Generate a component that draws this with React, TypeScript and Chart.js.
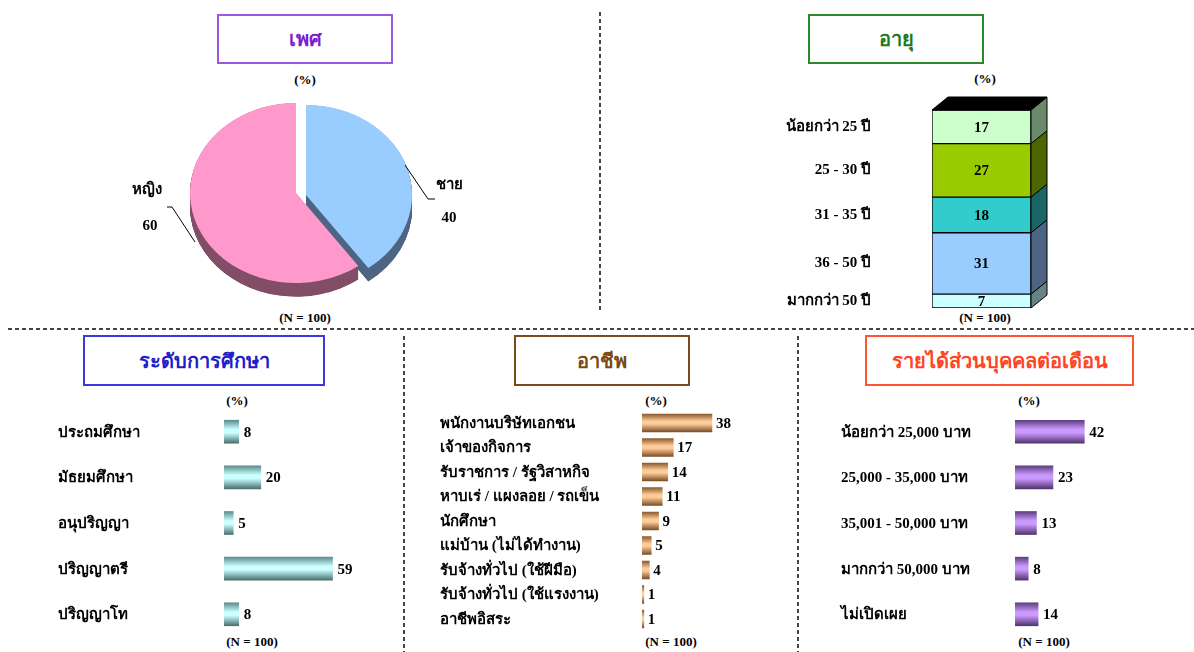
import React, { useEffect, useRef } from "react";
import { Chart, registerables, ArcElement } from "chart.js";

Chart.register(...registerables);

// ---------------- DATA ----------------
const genderLabels = ["ชาย", "หญิง"];
const genderValues = [40, 60];

const ageLabels = ["น้อยกว่า 25 ปี", "25 - 30 ปี", "31 - 35 ปี", "36 - 50 ปี", "มากกว่า 50 ปี"];
const ageValues = [17, 27, 18, 31, 7];

const eduLabels = ["ประถมศึกษา", "มัธยมศึกษา", "อนุปริญญา", "ปริญญาตรี", "ปริญญาโท"];
const eduValues = [8, 20, 5, 59, 8];

const jobLabels = [
  "พนักงานบริษัทเอกชน",
  "เจ้าของกิจการ",
  "รับราชการ / รัฐวิสาหกิจ",
  "หาบเร่ / แผงลอย / รถเข็น",
  "นักศึกษา",
  "แม่บ้าน (ไม่ได้ทำงาน)",
  "รับจ้างทั่วไป (ใช้ฝีมือ)",
  "รับจ้างทั่วไป (ใช้แรงงาน)",
  "อาชีพอิสระ",
];
const jobValues = [38, 17, 14, 11, 9, 5, 4, 1, 1];

const incomeLabels = [
  "น้อยกว่า 25,000 บาท",
  "25,000 - 35,000 บาท",
  "35,001 - 50,000 บาท",
  "มากกว่า 50,000 บาท",
  "ไม่เปิดเผย",
];
const incomeValues = [42, 23, 13, 8, 14];

// ---------------- STYLE ----------------
const SERIF = "'Liberation Serif', 'Times New Roman', serif";
const SANS = "Tahoma, 'DejaVu Sans', 'Noto Sans', sans-serif";
const LABEL_FONT = `bold 15px ${SERIF}`;
const VALUE_FONT = `bold 15px ${SERIF}`;

const genderColors = ["#99CCFF", "#FF99CC"];
const genderSideColors = ["#4D6482", "#824D66"];

const ageColors = ["#CCFFCC", "#99CC00", "#33CCCC", "#99CCFF", "#CCFFFF"];
const ageSideColors = ["#6B8A6B", "#4D6600", "#1A6666", "#4D6482", "#668484"];

// ---------------- PIE (3D look) ----------------
const PIE_X = 96;
const PIE_Y = 83;
const PIE_SCALE_Y = 0.85;
const PIE_DEPTH = 14;
const PIE_EXPLODE = [
  [10, 2],
  [0, 0],
];
const PIE_LABEL_POS = [
  { name: [449, 185], value: [449, 218], line: [[405, 165], [428, 199], [435, 199]] },
  { name: [147, 190], value: [150, 226], line: [[167, 207], [172, 207], [195, 242]] },
];

const pie3dPlugin = {
  id: "pie3d",
  afterDatasetUpdate(chart: any) {
    const meta = chart.getDatasetMeta(0);
    meta.data.forEach((arc: any, i: number) => {
      if (arc.__exploded) return;
      arc.__exploded = true;
      const [ex, ey] = PIE_EXPLODE[i] || [0, 0];
      arc.draw = function (ctx: CanvasRenderingContext2D) {
        ctx.save();
        ctx.translate(ex, ey / PIE_SCALE_Y);
        ArcElement.prototype.draw.call(this, ctx);
        ctx.restore();
      };
    });
  },
  beforeDatasetsDraw(chart: any) {
    const ctx = chart.ctx;
    const meta = chart.getDatasetMeta(0);
    const first = meta.data[0];
    const cx = first.x;
    const cy = first.y;
    ctx.save();
    ctx.translate(cx, cy);
    ctx.scale(1, PIE_SCALE_Y);
    ctx.translate(-cx, -cy);
    const depth = PIE_DEPTH / PIE_SCALE_Y;
    meta.data.forEach((arc: any, i: number) => {
      const p = arc.getProps(["x", "y", "startAngle", "endAngle", "outerRadius"], true);
      const [ex, ey] = PIE_EXPLODE[i] || [0, 0];
      const ox = ex;
      const oy = ey / PIE_SCALE_Y;
      ctx.fillStyle = genderSideColors[i];
      for (let k = 0.5; k <= depth; k += 0.5) {
        ctx.beginPath();
        ctx.moveTo(p.x + ox, p.y + oy + k);
        ctx.arc(p.x + ox, p.y + oy + k, p.outerRadius, p.startAngle, p.endAngle);
        ctx.closePath();
        ctx.fill();
      }
    });
  },
  afterDatasetsDraw(chart: any) {
    const ctx = chart.ctx;
    ctx.restore();
    ctx.save();
    ctx.fillStyle = "#000";
    ctx.textAlign = "center";
    ctx.textBaseline = "middle";
    chart.data.labels.forEach((lab: string, i: number) => {
      const lp = PIE_LABEL_POS[i];
      ctx.font = LABEL_FONT;
      ctx.fillText(lab, lp.name[0] - PIE_X, lp.name[1] - PIE_Y);
      ctx.font = VALUE_FONT;
      ctx.fillText(String(chart.data.datasets[0].data[i]), lp.value[0] - PIE_X, lp.value[1] - PIE_Y);
      ctx.beginPath();
      ctx.moveTo(lp.line[0][0] - PIE_X, lp.line[0][1] - PIE_Y);
      for (let k = 1; k < lp.line.length; k++) ctx.lineTo(lp.line[k][0] - PIE_X, lp.line[k][1] - PIE_Y);
      ctx.strokeStyle = "#000";
      ctx.lineWidth = 1;
      ctx.stroke();
    });
    ctx.restore();
  },
};

// ---------------- AGE (3D stacked column) ----------------
const AGE_DX = 16;
const AGE_DY = 13;
const AGE_LABEL_X = 111; // canvas x (page 871)

const age3dPlugin = {
  id: "age3d",
  afterDatasetsDraw(chart: any) {
    const ctx = chart.ctx;
    const n = chart.data.datasets.length;
    ctx.save();
    for (let d = 0; d < n; d++) {
      const bar = chart.getDatasetMeta(d).data[0];
      const p = bar.getProps(["x", "y", "base", "width"], true);
      const l = p.x - p.width / 2;
      const r = p.x + p.width / 2;
      const t = Math.min(p.y, p.base);
      const b = Math.max(p.y, p.base);
      ctx.beginPath();
      ctx.moveTo(r, t);
      ctx.lineTo(r + AGE_DX, t - AGE_DY);
      ctx.lineTo(r + AGE_DX, b - AGE_DY);
      ctx.lineTo(r, b);
      ctx.closePath();
      ctx.fillStyle = chart.data.datasets[d].sideColor;
      ctx.fill();
      ctx.strokeStyle = "#000";
      ctx.lineWidth = 1;
      ctx.stroke();
      if (d === n - 1) {
        ctx.beginPath();
        ctx.moveTo(l, t);
        ctx.lineTo(l + AGE_DX, t - AGE_DY);
        ctx.lineTo(r + AGE_DX, t - AGE_DY);
        ctx.lineTo(r, t);
        ctx.closePath();
        ctx.fillStyle = "#000";
        ctx.fill();
        ctx.stroke();
      }
      ctx.fillStyle = "#000";
      ctx.textBaseline = "middle";
      ctx.font = VALUE_FONT;
      ctx.textAlign = "center";
      ctx.fillText(String(chart.data.datasets[d].data[0]), p.x, (t + b) / 2 + 1);
      ctx.font = LABEL_FONT;
      ctx.textAlign = "right";
      ctx.fillText(chart.data.datasets[d].label, AGE_LABEL_X, (t + b) / 2);
    }
    ctx.restore();
  },
};

// ---------------- HORIZONTAL BARS ----------------
function hbarLabelPlugin(o: any) {
  return {
    id: "hbarLabels",
    afterDatasetsDraw(chart: any) {
      const ctx = chart.ctx;
      const meta = chart.getDatasetMeta(0);
      ctx.save();
      ctx.fillStyle = "#000";
      ctx.textBaseline = "middle";
      ctx.textAlign = "left";
      meta.data.forEach((bar: any, i: number) => {
        ctx.font = LABEL_FONT;
        ctx.fillText(chart.data.labels[i], o.labelX, bar.y + 1);
        ctx.font = VALUE_FONT;
        ctx.fillText(String(chart.data.datasets[0].data[i]), bar.x + o.gap, bar.y + 1);
      });
      ctx.restore();
    },
  };
}

function hbarConfig(labels: string[], values: number[], o: any) {
  const max = (o.w - o.padL - o.padR) / o.ppu;
  return {
    type: "bar",
    data: {
      labels,
      datasets: [
        {
          data: values,
          barThickness: o.thick,
          borderWidth: 0,
          backgroundColor: (c: any) => {
            const ch = c.chart;
            const sc = ch.scales && ch.scales.y;
            if (!sc || !ch.chartArea) return o.light;
            const yc = sc.getPixelForValue(c.dataIndex);
            const g = ch.ctx.createLinearGradient(0, yc - o.thick / 2, 0, yc + o.thick / 2);
            g.addColorStop(0, o.dark);
            g.addColorStop(0.4, o.light);
            g.addColorStop(0.55, o.light);
            g.addColorStop(1, o.dark2 || o.dark);
            return g;
          },
        },
      ],
    },
    options: {
      indexAxis: "y",
      responsive: false,
      animation: false,
      layout: { padding: { left: o.padL, right: o.padR, top: o.padT, bottom: o.padB } },
      scales: { x: { display: false, min: 0, max }, y: { display: false } },
      plugins: { legend: { display: false }, tooltip: { enabled: false } },
    },
    plugins: [hbarLabelPlugin(o)],
  };
}

// ---------------- COMPONENTS ----------------
function ChartCanvas({ x, y, w, h, build }: any) {
  const ref = useRef<HTMLCanvasElement>(null);
  useEffect(() => {
    const chart = new Chart(ref.current as HTMLCanvasElement, build());
    return () => chart.destroy();
  }, []);
  return (
    <canvas
      ref={ref}
      width={w}
      height={h}
      style={{ position: "absolute", left: x, top: y, width: w, height: h }}
    />
  );
}

function TitleBox({ x, y, w, h, color, border, text }: any) {
  return (
    <div
      style={{
        position: "absolute",
        left: x,
        top: y,
        width: w,
        height: h,
        boxSizing: "border-box",
        border: `2px solid ${border}`,
        display: "flex",
        alignItems: "center",
        justifyContent: "center",
        color,
        fontFamily: SANS,
        fontWeight: "bold",
        fontSize: 20,
        background: "#fff",
      }}
    >
      {text}
    </div>
  );
}

function Note({ x, y, text }: any) {
  return (
    <div
      style={{
        position: "absolute",
        left: x,
        top: y,
        transform: "translate(-50%, -50%)",
        fontFamily: SERIF,
        fontWeight: "bold",
        fontSize: 13,
        whiteSpace: "nowrap",
        color: "#000",
      }}
    >
      {text}
    </div>
  );
}

const pieBuild = () => ({
  type: "pie",
  data: {
    labels: genderLabels,
    datasets: [
      {
        data: genderValues,
        backgroundColor: genderColors,
        borderWidth: 0,
        radius: 106,
      },
    ],
  },
  options: {
    responsive: false,
    animation: false,
    radius: 106,
    plugins: { legend: { display: false }, tooltip: { enabled: false } },
  },
  plugins: [pie3dPlugin],
});

const ageBuild = () => ({
  type: "bar",
  data: {
    labels: [""],
    datasets: ageValues
      .map((v, i) => ({
        label: ageLabels[i],
        data: [v],
        backgroundColor: ageColors[i],
        sideColor: ageSideColors[i],
        borderColor: "#000",
        borderWidth: 1,
        borderSkipped: false,
        barPercentage: 1,
        categoryPercentage: 1,
      }))
      .reverse(),
  },
  options: {
    responsive: false,
    animation: false,
    layout: { padding: { left: 172, right: 29, top: 22, bottom: 12 } },
    scales: {
      x: { display: false, stacked: true },
      y: { display: false, stacked: true, min: 0, max: 100 },
    },
    plugins: { legend: { display: false }, tooltip: { enabled: false } },
  },
  plugins: [age3dPlugin],
});

const eduOpts = {
  w: 350, padL: 174, padR: 0, padT: 8.9, padB: 2.9, ppu: 1.84, thick: 23,
  dark: "#5E8C8C", light: "#CCFFFF", dark2: "#4A7070", labelX: 8, gap: 5,
};
const jobOpts = {
  w: 340, padL: 212, padR: 0, padT: 5.75, padB: 3.75, ppu: 1.84, thick: 18,
  dark: "#8A5A2E", light: "#FFCC99", dark2: "#7A4E26", labelX: 10, gap: 4,
};
const incOpts = {
  w: 340, padL: 185, padR: 0, padT: 8.9, padB: 2.9, ppu: 1.65, thick: 23,
  dark: "#5E3E82", light: "#CC99FF", dark2: "#50346E", labelX: 11, gap: 5,
};

export default function App() {
  return (
    <div
      style={{
        position: "absolute",
        left: 0,
        top: 0,
        width: 1194,
        height: 652,
        overflow: "hidden",
        background: "#fff",
      }}
    >
      <svg
        width={1194}
        height={652}
        style={{ position: "absolute", left: 0, top: 0 }}
        shapeRendering="crispEdges"
      >
        <g stroke="#444" strokeWidth={2} strokeDasharray="4 3">
          <line x1={600} y1={12} x2={600} y2={312} />
          <line x1={8} y1={329} x2={1194} y2={329} />
          <line x1={404} y1={336} x2={404} y2={652} />
          <line x1={798} y1={336} x2={798} y2={652} />
        </g>
      </svg>

      <TitleBox x={217} y={14} w={176} h={50} color="#7A1FD0" border="#9A5AE0" text="เพศ" />
      <TitleBox x={808} y={14} w={176} h={50} color="#1E7A1E" border="#2A8A2A" text="อายุ" />
      <TitleBox x={83} y={335} w={242} h={51} color="#2020C8" border="#3A3ADD" text="ระดับการศึกษา" />
      <TitleBox x={514} y={335} w={176} h={51} color="#7B4A12" border="#7B4A1A" text="อาชีพ" />
      <TitleBox x={865} y={335} w={269} h={51} color="#FF4422" border="#FF5533" text="รายได้ส่วนบุคคลต่อเดือน" />

      <Note x={305} y={80} text="(%)" />
      <Note x={305} y={318} text="(N = 100)" />
      <Note x={985} y={79} text="(%)" />
      <Note x={985} y={318} text="(N = 100)" />
      <Note x={237} y={401} text="(%)" />
      <Note x={252} y={642} text="(N = 100)" />
      <Note x={656} y={401} text="(%)" />
      <Note x={671} y={642} text="(N = 100)" />
      <Note x={1029} y={401} text="(%)" />
      <Note x={1044} y={642} text="(N = 100)" />

      <ChartCanvas x={PIE_X} y={PIE_Y} w={400} h={220} build={pieBuild} />
      <ChartCanvas x={760} y={88} w={300} h={232} build={ageBuild} />
      <ChartCanvas x={50} y={400} w={350} h={240} build={() => hbarConfig(eduLabels, eduValues, eduOpts)} />
      <ChartCanvas x={430} y={405} w={340} h={230} build={() => hbarConfig(jobLabels, jobValues, jobOpts)} />
      <ChartCanvas x={830} y={400} w={340} h={240} build={() => hbarConfig(incomeLabels, incomeValues, incOpts)} />
    </div>
  );
}
